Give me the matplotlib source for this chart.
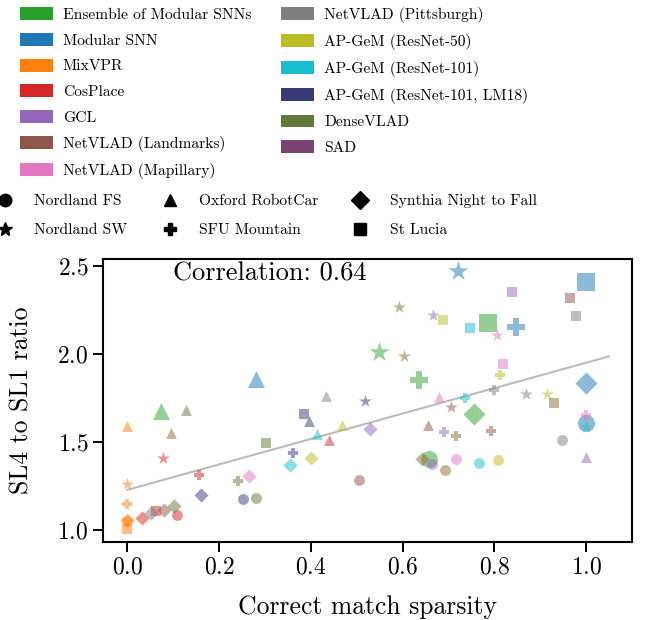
import numpy as np
import matplotlib
matplotlib.use("Agg")
import matplotlib.pyplot as plt
from matplotlib.patches import Patch
from matplotlib.lines import Line2D

plt.rcParams['font.family'] = ['cmr10', 'DejaVu Serif']
plt.rcParams['mathtext.fontset'] = 'cm'
plt.rcParams['axes.formatter.use_mathtext'] = True

methods = ["Ensemble of Modular SNNs", "Modular SNN", "MixVPR", "CosPlace", "GCL",
           "NetVLAD (Landmarks)", "NetVLAD (Mapillary)", "NetVLAD (Pittsburgh)",
           "AP-GeM (ResNet-50)", "AP-GeM (ResNet-101)", "AP-GeM (ResNet-101, LM18)",
           "DenseVLAD", "SAD"]
legend_colors = ["#2ca02c", "#1f77b4", "#ff7f0e", "#d62728", "#9467bd", "#8c564b",
                 "#e377c2", "#7f7f7f", "#bcbd22", "#17becf", "#393b79", "#637939", "#7b4173"]
point_colors = ["#2ca02c", "#1f77b4", "#ff7f0e", "#d62728", "#9467bd", "#8c564b",
                "#e377c2", "#7f7f7f", "#bcbd22", "#17becf", "#393b79", "#637939", "#8c6d31"]

# dataset order: Nordland FS, Nordland SW, Oxford RobotCar, SFU Mountain, Synthia Night to Fall, St Lucia
datasets = ["Nordland FS", "Nordland SW", "Oxford RobotCar", "SFU Mountain",
            "Synthia Night to Fall", "St Lucia"]
dataset_markers = ["o", "*", "^", "P", "D", "s"]

sparsity = {
    "Ensemble of Modular SNNs": [0.657, 0.548, 0.074, 0.636, 0.755, 0.786],
    "Modular SNN":              [1.000, 0.720, 0.281, 0.847, 1.000, 1.000],
    "MixVPR":                   [0.000, 0.000, 0.000, 0.000, 0.000, 0.000],
    "CosPlace":                 [0.108, 0.078, 0.439, 0.156, 0.032, 0.063],
    "GCL":                      [0.664, 0.666, 1.000, 0.691, 0.530, 0.839],
    "NetVLAD (Landmarks)":      [0.506, 0.706, 0.655, 0.793, 0.079, 0.964],
    "NetVLAD (Mapillary)":      [0.717, 0.806, 0.679, 1.000, 0.266, 0.818],
    "NetVLAD (Pittsburgh)":     [0.947, 0.870, 0.434, 0.799, 0.051, 0.977],
    "AP-GeM (ResNet-50)":       [0.807, 0.915, 0.468, 0.813, 0.400, 0.687],
    "AP-GeM (ResNet-101)":      [0.766, 1.000, 0.413, 0.735, 0.355, 0.746],
    "AP-GeM (ResNet-101, LM18)": [0.252, 0.519, 0.396, 0.361, 0.161, 0.386],
    "DenseVLAD":                [0.281, 0.593, 0.127, 0.242, 0.101, 0.302],
    "SAD":                      [0.693, 0.604, 0.096, 0.716, 0.642, 0.930],
}
ratio = {
    "Ensemble of Modular SNNs": [1.400, 2.013, 1.675, 1.851, 1.660, 2.175],
    "Modular SNN":              [1.609, 2.469, 1.859, 2.155, 1.836, 2.408],
    "MixVPR":                   [1.050, 1.258, 1.589, 1.148, 1.053, 1.006],
    "CosPlace":                 [1.085, 1.410, 1.508, 1.309, 1.066, 1.104],
    "GCL":                      [1.375, 2.223, 1.413, 1.555, 1.575, 2.350],
    "NetVLAD (Landmarks)":      [1.280, 1.698, 1.593, 1.561, 1.110, 2.317],
    "NetVLAD (Mapillary)":      [1.400, 2.107, 1.754, 1.650, 1.305, 1.942],
    "NetVLAD (Pittsburgh)":     [1.512, 1.770, 1.758, 1.792, 1.097, 2.217],
    "AP-GeM (ResNet-50)":       [1.394, 1.770, 1.593, 1.879, 1.407, 2.195],
    "AP-GeM (ResNet-101)":      [1.381, 1.584, 1.546, 1.751, 1.366, 2.145],
    "AP-GeM (ResNet-101, LM18)": [1.176, 1.730, 1.618, 1.438, 1.195, 1.660],
    "DenseVLAD":                [1.180, 2.268, 1.683, 1.277, 1.133, 1.493],
    "SAD":                      [1.337, 1.986, 1.552, 1.532, 1.404, 1.720],
}
correlation_text = "Correlation: 0.64"

W, H = 653, 620
fig = plt.figure(figsize=(W / 100, H / 100), dpi=100)
ax = fig.add_axes([103 / W, (H - 542) / H, (632 - 103) / W, (542 - 259) / H])

big = {"Ensemble of Modular SNNs", "Modular SNN"}
for m, c in zip(methods, point_colors):
    for xv, yv, mk in zip(sparsity[m], ratio[m], dataset_markers):
        s = 150 if m in big else 62
        if mk == "*":
            s *= 1.5
        if mk == "D":
            s *= 0.85
        ax.scatter(xv, yv, marker=mk, s=s, color=c, alpha=0.5, linewidths=0)

allx = np.concatenate([sparsity[m] for m in methods])
ally = np.concatenate([ratio[m] for m in methods])
k, b = np.polyfit(allx, ally, 1)
xl = np.array([0.0, 1.05])
ax.plot(xl, k * xl + b, color="#bbbbbb", lw=1.5, zorder=0)

ax.text(0.316, 0.923, correlation_text, transform=ax.transAxes, ha="center",
        va="baseline", fontsize=19)

ax.set_xlim(-0.053, 1.1)
ax.set_ylim(0.93, 2.54)
ax.set_xticks([0.0, 0.2, 0.4, 0.6, 0.8, 1.0])
ax.set_yticks([1.0, 1.5, 2.0, 2.5])
ax.tick_params(labelsize=17, length=7, width=1.4, direction="out")
for sp in ax.spines.values():
    sp.set_linewidth(1.5)
ax.set_xlabel("Correct match sparsity", fontsize=18.5, labelpad=12)
ax.set_ylabel("SL4 to SL1 ratio", fontsize=18.5, labelpad=17)

h1 = [Patch(facecolor=c, edgecolor="none") for c in legend_colors]
fig.legend(h1, methods, loc="upper left", bbox_to_anchor=(20 / W, 1 - 7 / H),
           ncol=2, frameon=False, fontsize=11.2, handlelength=2.1, handleheight=0.9,
           handletextpad=0.65, columnspacing=1.95, labelspacing=0.7,
           borderpad=0, borderaxespad=0)

h2 = [Line2D([], [], marker=mk, color="black", linestyle="none", markersize=9 if mk != "*" else 10)
      for mk in dataset_markers]
fig.legend(h2, datasets, loc="upper left", bbox_to_anchor=(-3 / W, 1 - 194 / H),
           ncol=3, frameon=False, fontsize=11.2, handlelength=1.0,
           handletextpad=1.4, columnspacing=2.2, labelspacing=0.97,
           borderpad=0, borderaxespad=0)

fig.savefig("out.png", dpi=100)
